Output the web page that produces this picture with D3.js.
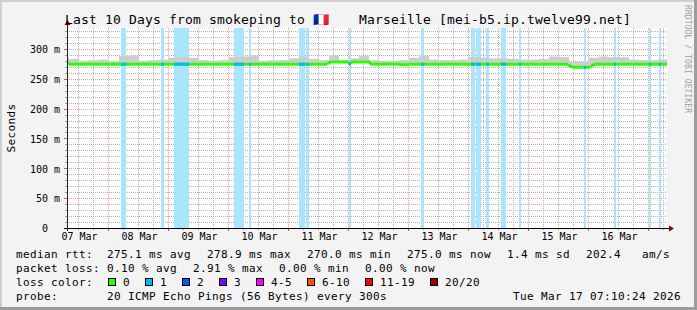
<!DOCTYPE html>
<html>
<head>
<meta charset="utf-8">
<script src="https://cdn.jsdelivr.net/npm/d3@7"></script>
<style>
html, body { margin: 0; padding: 0; background: #f3f3f3; }
svg { display: block; font-family: "DejaVu Sans Mono", monospace; }
text { white-space: pre; }
</style>
</head>
<body>
<div id="chart"></div>
<script>
const W = 697, H = 310;

// graph window (UTC)
const startTime = "2026-03-07T07:10:24Z";
const endTime = "2026-03-17T07:10:24Z";

// median rtt (ms), value holds from each time to the next
const medianTimes = [
	"2026-03-07T07:10Z", "2026-03-07T07:58Z", "2026-03-11T15:10Z", "2026-03-11T16:10Z",
	"2026-03-11T23:58Z", "2026-03-12T00:46Z", "2026-03-12T08:22Z", "2026-03-12T20:22Z",
	"2026-03-12T23:34Z", "2026-03-15T15:34Z", "2026-03-15T16:34Z", "2026-03-15T17:34Z",
	"2026-03-16T00:22Z", "2026-03-16T01:22Z", "2026-03-16T02:22Z"
];
const medianValues = [
	276.8, 275.3, 277.0, 278.9,
	275.8, 278.9, 275.3, 274.4,
	275.3, 272.8, 270.9, 270.0,
	272.2, 274.0, 275.3
];

// periods with 1/20 pings lost
const lossFrom = [
	"2026-03-08T04:46Z", "2026-03-08T20:46Z", "2026-03-09T01:58Z", "2026-03-10T01:58Z",
	"2026-03-10T07:58Z", "2026-03-11T03:58Z", "2026-03-11T06:46Z", "2026-03-11T23:58Z",
	"2026-03-13T04:46Z", "2026-03-14T00:46Z", "2026-03-14T02:46Z", "2026-03-14T06:46Z",
	"2026-03-14T12:46Z", "2026-03-14T19:58Z", "2026-03-15T21:58Z", "2026-03-16T09:58Z",
	"2026-03-16T23:58Z", "2026-03-17T03:58Z"
];
const lossTo = [
	"2026-03-08T06:46Z", "2026-03-08T21:58Z", "2026-03-09T07:58Z", "2026-03-10T05:58Z",
	"2026-03-10T08:46Z", "2026-03-11T06:22Z", "2026-03-11T07:58Z", "2026-03-12T00:46Z",
	"2026-03-13T05:58Z", "2026-03-14T02:22Z", "2026-03-14T04:46Z", "2026-03-14T07:58Z",
	"2026-03-14T14:46Z", "2026-03-14T20:46Z", "2026-03-15T22:46Z", "2026-03-16T10:46Z",
	"2026-03-17T00:46Z", "2026-03-17T04:46Z"
];

// smoke (upper ping spread, ms) in 4 hour bins from 07 Mar 04:00
const smokeStart = "2026-03-07T04:00Z";
const smokeHours = 4;
const smokeTop = [
	287, 284, 281, 282, 283, 280, 289, 290, 281, 282,
	283, 286, 288, 286, 282, 281, 282, 287, 288, 290,
	281, 282, 282, 285, 288, 284, 282, 290, 282, 285,
	289, 282, 281, 281, 282, 286, 290, 283, 282, 282,
	283, 287, 286, 285, 285, 284, 283, 283, 284, 288,
	287, 279, 279, 286, 288, 287, 287, 283, 282, 282,
	283
];

const yTicks = [0, 50, 100, 150, 200, 250, 300];
const dayTicks = [
	"2026-03-07T12:00Z", "2026-03-08T12:00Z", "2026-03-09T12:00Z", "2026-03-10T12:00Z",
	"2026-03-11T12:00Z", "2026-03-12T12:00Z", "2026-03-13T12:00Z", "2026-03-14T12:00Z",
	"2026-03-15T12:00Z", "2026-03-16T12:00Z"
];

const medianStats = ["275.1 ms avg", "278.9 ms max", "270.0 ms min", "275.0 ms now", "1.4 ms sd", "202.4   am/s"];
const lossStats = ["0.10 % avg", "2.91 % max", "0.00 % min", "0.00 % now"];
const lossLevels = ["0", "1", "2", "3", "4-5", "6-10", "11-19", "20/20"];
const lossColors = ["#26ff00", "#00b8ff", "#0059ff", "#7e00ff", "#ff00ff", "#ff5500", "#ff0000", "#a10000"];
const probeText = "20 ICMP Echo Pings (56 Bytes) every 300s";
const stampText = "Tue Mar 17 07:10:24 2026";

const svg = d3.select('#chart').append('svg').attr('width', W).attr('height', H);

// background and 3d frame
svg.append('rect').attr('width', W).attr('height', H).attr('fill', '#f3f3f3');
svg.append('path').attr('d', `M0,0H${W}V2H2V${H}H0Z`).attr('fill', '#cfcfcf');
svg.append('path').attr('d', `M${W},${H}H0V${H - 3}H${W - 3}V0H${W}Z`).attr('fill', '#9c9c9c');

let x = d3.scaleUtc().domain([new Date(startTime), new Date(endTime)]).range([67, 667]);
let y = d3.scaleLinear().domain([0, 335]).range([228.5, 28.5]);
const cx = v => Math.round(v) - 0.5;
const cy = v => Math.floor(v) + 0.5;
const [x0, x1] = x.range();
const yBot = 228, yTop = 28;

svg.append('rect').attr('x', x0).attr('y', yTop).attr('width', x1 - x0).attr('height', yBot - yTop).attr('fill', '#fff');

// grid
const grid = svg.append('g').attr('fill', 'none').attr('stroke-dasharray', '1,1');
const minorCol = '#b4b4b4', majorCol = '#f19c9c';
const t0 = new Date(startTime), t1 = new Date(endTime);
let hours6 = d3.utcHour.every(6).range(t0, t1).filter(d => d.getUTCHours() !== 0);
let days = d3.utcDay.range(t0, t1);
grid.selectAll('.vmin').data(hours6).enter().append('line')
	.attr('x1', d => cx(x(d))).attr('x2', d => cx(x(d)))
	.attr('y1', yTop).attr('y2', yBot).attr('stroke', minorCol);
grid.selectAll('.hmin').data(d3.range(10, 335, 10).filter(v => v % 50)).enter().append('line')
	.attr('x1', x0).attr('x2', x1)
	.attr('y1', d => cy(y(d))).attr('y2', d => cy(y(d))).attr('stroke', minorCol);
grid.selectAll('.vmaj').data(days).enter().append('line')
	.attr('x1', d => cx(x(d))).attr('x2', d => cx(x(d)))
	.attr('y1', yTop).attr('y2', yBot).attr('stroke', majorCol);
grid.selectAll('.hmaj').data(yTicks.slice(1)).enter().append('line')
	.attr('x1', x0).attr('x2', x1)
	.attr('y1', d => cy(y(d))).attr('y2', d => cy(y(d))).attr('stroke', majorCol);

// loss background bands
let losses = lossFrom.map((f, i) => ({from: new Date(f), to: new Date(lossTo[i])}));
svg.append('g').selectAll('rect').data(losses).enter().append('rect')
	.attr('x', d => x(d.from)).attr('width', d => x(d.to) - x(d.from))
	.attr('y', yTop).attr('height', yBot - yTop)
	.attr('fill', '#a9e5fc');

// median lookup
let med = medianTimes.map((t, i) => ({t: new Date(t), v: medianValues[i]}));
const medianAt = t => med[Math.max(0, d3.bisectRight(med.map(d => d.t), t) - 1)].v;

// smoke
let smoke = smokeTop.map((v, i) => {
	let a = d3.utcHour.offset(new Date(smokeStart), i * smokeHours);
	let b = d3.utcHour.offset(a, smokeHours);
	let xa = Math.max(x(a), x0), xb = Math.min(x(b), x1);
	let mid = x.invert((xa + xb) / 2);
	return {xa, xb, top: v, base: medianAt(mid)};
});
svg.append('g').selectAll('rect').data(smoke).enter().append('rect')
	.attr('x', d => d.xa).attr('width', d => d.xb - d.xa)
	.attr('y', d => y(d.top)).attr('height', d => Math.max(0, y(d.base) - y(d.top)))
	.attr('fill', '#cdcdcd');

// median: dark step line, then loss coloured bands
let segs = med.map((d, i) => ({from: d.t, to: i < med.length - 1 ? med[i + 1].t : t1, v: d.v}));
let stepPts = segs.map(d => [x(d.from), y(d.v)]).concat([[x(t1), y(segs[segs.length - 1].v)]]);
svg.append('path').attr('d', d3.line().curve(d3.curveStepAfter)(stepPts))
	.attr('fill', 'none').attr('stroke', '#202020').attr('stroke-width', 1);
svg.append('g').selectAll('line').data(segs).enter().append('line')
	.attr('x1', d => x(d.from)).attr('x2', d => x(d.to))
	.attr('y1', d => y(d.v)).attr('y2', d => y(d.v))
	.attr('stroke', lossColors[0]).attr('stroke-width', 3);
let lossSegs = [];
losses.forEach(l => segs.forEach(s => {
	let a = Math.max(l.from, s.from), b = Math.min(l.to, s.to);
	if (b > a) lossSegs.push({from: a, to: b, v: s.v});
}));
svg.append('g').selectAll('line').data(lossSegs).enter().append('line')
	.attr('x1', d => x(d.from)).attr('x2', d => x(d.to))
	.attr('y1', d => y(d.v)).attr('y2', d => y(d.v))
	.attr('stroke', lossColors[1]).attr('stroke-width', 3);

// axis ticks
const ticks = svg.append('g');
ticks.selectAll('.xt').data(hours6.concat(days)).enter().append('line')
	.attr('x1', d => cx(x(d))).attr('x2', d => cx(x(d)))
	.attr('y1', yBot).attr('y2', d => d.getUTCHours() === 0 ? yBot + 3 : yBot + 2)
	.attr('stroke', d => d.getUTCHours() === 0 ? '#e05050' : '#999');
ticks.selectAll('.yt').data(d3.range(0, 335, 10)).enter().append('line')
	.attr('x1', d => d % 50 ? x0 - 2 : x0 - 3).attr('x2', x0)
	.attr('y1', d => cy(y(d))).attr('y2', d => cy(y(d)))
	.attr('stroke', d => d % 50 ? '#999' : '#e05050');

// axes and arrows
svg.append('line').attr('x1', x0 - 3).attr('x2', x1 + 2).attr('y1', yBot + 0.5).attr('y2', yBot + 0.5).attr('stroke', '#000');
svg.append('line').attr('x1', x0 + 0.5).attr('x2', x0 + 0.5).attr('y1', yBot + 3).attr('y2', yTop - 3).attr('stroke', '#222');
svg.append('path').attr('d', `M${x1 + 2},${yBot - 2.5}L${x1 + 7},${yBot + 0.5}L${x1 + 2},${yBot + 3.5}Z`).attr('fill', '#8b0000');
svg.append('path').attr('d', `M${x0 - 2.5},${yTop - 3}L${x0 + 0.5},${yTop - 8}L${x0 + 3.5},${yTop - 3}Z`).attr('fill', '#8b0000');

// axis labels
let yAxis = svg.append('g').attr('transform', `translate(${x0},0)`)
	.call(d3.axisLeft(y).tickValues(yTicks).tickSize(0).tickPadding(7)
		.tickFormat(d => d === 0 ? '0  ' : d + ' m'));
yAxis.select('.domain').remove();
yAxis.selectAll('text').attr('font-family', '"DejaVu Sans Mono", monospace').attr('font-size', 10).attr('fill', '#000');

let xAxis = svg.append('g').attr('transform', `translate(0,${yBot})`)
	.call(d3.axisBottom(x).tickValues(dayTicks.map(d => new Date(d))).tickSize(0).tickPadding(5)
		.tickFormat(d3.utcFormat('%d %b')));
xAxis.select('.domain').remove();
xAxis.selectAll('text').attr('font-family', '"DejaVu Sans Mono", monospace').attr('font-size', 10).attr('fill', '#000');

// titles
const big = {size: 13, ls: 0.17}, mid = {size: 11, ls: 0.38};
function txt(str, tx, ty, f, anchor) {
	return svg.append('text').attr('x', tx).attr('y', ty).text(str)
		.attr('font-size', f.size).attr('letter-spacing', f.ls)
		.attr('text-anchor', anchor || 'start').attr('fill', '#000');
}
txt('Last 10 Days from smokeping to', 65, 24, big);
txt('\u{1F1EB}\u{1F1F7}', 313, 24, big);
txt('Marseille [mei-b5.ip.twelve99.net]', 359, 24, big);

svg.append('text').attr('transform', 'translate(15,128) rotate(-90)')
	.attr('text-anchor', 'middle').attr('font-size', mid.size).attr('letter-spacing', mid.ls)
	.text('Seconds');

svg.append('text').attr('transform', 'translate(685,5) rotate(90)')
	.attr('font-size', 8).attr('letter-spacing', 0.1).attr('fill', '#a0a0a0')
	.text('RRDTOOL / TOBI OETIKER');

// legend
const charW = 7, lx = 16, vx = 107;
const rows = [258, 272, 286, 299.5];
function chunks(items, ty) {
	let cx0 = vx;
	items.forEach(s => {
		txt(s, cx0, ty, mid);
		cx0 += s.length * charW + 16;
	});
}
txt('median rtt:', lx, rows[0], mid);
chunks(medianStats, rows[0]);
txt('packet loss:', lx, rows[1], mid);
chunks(lossStats, rows[1]);
txt('loss color:', lx, rows[2], mid);
let sx = vx + 1;
lossLevels.forEach((lv, i) => {
	svg.append('rect').attr('x', sx + 0.5).attr('y', rows[2] - 7.5).attr('width', 7).attr('height', 7)
		.attr('fill', lossColors[i]).attr('stroke', '#000');
	txt(lv, sx + 15, rows[2], mid);
	sx += 15 + lv.length * charW + 15;
});
txt('probe:', lx, rows[3], mid);
txt(probeText, vx, rows[3], mid);
txt(stampText, 681, rows[3], mid, 'end');
</script>
</body>
</html>
